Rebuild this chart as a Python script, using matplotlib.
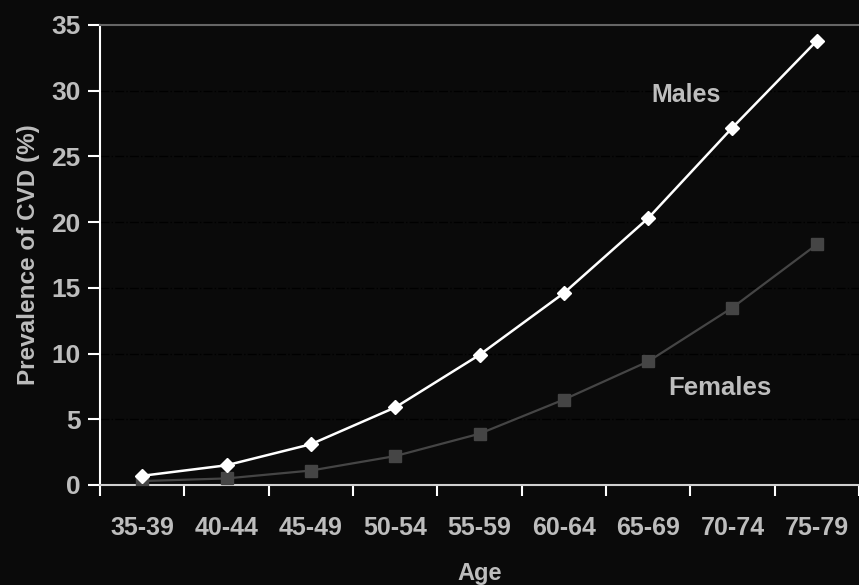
import matplotlib
matplotlib.use("Agg")
import matplotlib.pyplot as plt
import numpy as np

categories = ["35-39", "40-44", "45-49", "50-54", "55-59", "60-64", "65-69", "70-74", "75-79"]
males = [0.7, 1.5, 3.1, 5.9, 9.9, 14.6, 20.3, 27.2, 33.8]
females = [0.3, 0.5, 1.1, 2.2, 3.9, 6.5, 9.4, 13.5, 18.3]
yticks = [0, 5, 10, 15, 20, 25, 30, 35]

plt.rcParams['font.family'] = ['Liberation Sans', 'DejaVu Sans']
bg = '#0a0a0a'
txt = '#bdbdbd'

fig = plt.figure(figsize=(8.59, 5.85), dpi=100, facecolor=bg)
ax = fig.add_axes([100/859, 1-485/585, 1-100/859, 460/585], facecolor=bg)

x = np.arange(len(categories))
for yv in yticks[1:-1]:
    ax.axhline(yv, color='#000000', lw=1.0, ls='-.', zorder=1)

ax.plot(x, females, color='#454545', lw=1.6, marker='s', ms=9, mfc='#454545', mec='#454545', zorder=3)
ax.plot(x, males, color='white', lw=1.8, marker='D', ms=7.5, mfc='white', mec='white', zorder=4)

ax.set_xlim(-0.5, len(categories) - 0.5)
ax.set_ylim(0, 35)
ax.set_yticks(yticks)
ax.set_xticks(x)
ax.set_xticklabels(categories)
ax.set_xticks(np.arange(-0.5, len(categories) + 0.5, 1), minor=True)
ax.tick_params(axis='x', which='major', length=0, pad=22, labelsize=18, labelcolor=txt)
ax.tick_params(axis='x', which='minor', length=8, width=1.5, color='white', direction='out')
ax.tick_params(axis='y', length=9, width=1.5, color='white', labelsize=19, labelcolor=txt, pad=5)
for lab in ax.get_xticklabels() + ax.get_yticklabels():
    lab.set_fontweight('bold')

ax.spines['left'].set_color('white')
ax.spines['left'].set_linewidth(1.5)
ax.spines['bottom'].set_color('#d0d0d0')
ax.spines['bottom'].set_linewidth(1.5)
ax.spines['top'].set_color('#666666')
ax.spines['top'].set_linewidth(1.5)
ax.spines['right'].set_visible(False)

ax.set_xlabel('Age', color=txt, fontsize=17, fontweight='bold', labelpad=16)
ax.set_ylabel('Prevalence of CVD (%)', color=txt, fontsize=17.5, fontweight='bold', labelpad=8)

ax.text(6.45, 29.7, 'Males', color=txt, fontsize=18, fontweight='bold', ha='center', va='center')
ax.text(6.85, 7.4, 'Females', color=txt, fontsize=18.5, fontweight='bold', ha='center', va='center')

fig.savefig('out.png', dpi=100, facecolor=bg)
